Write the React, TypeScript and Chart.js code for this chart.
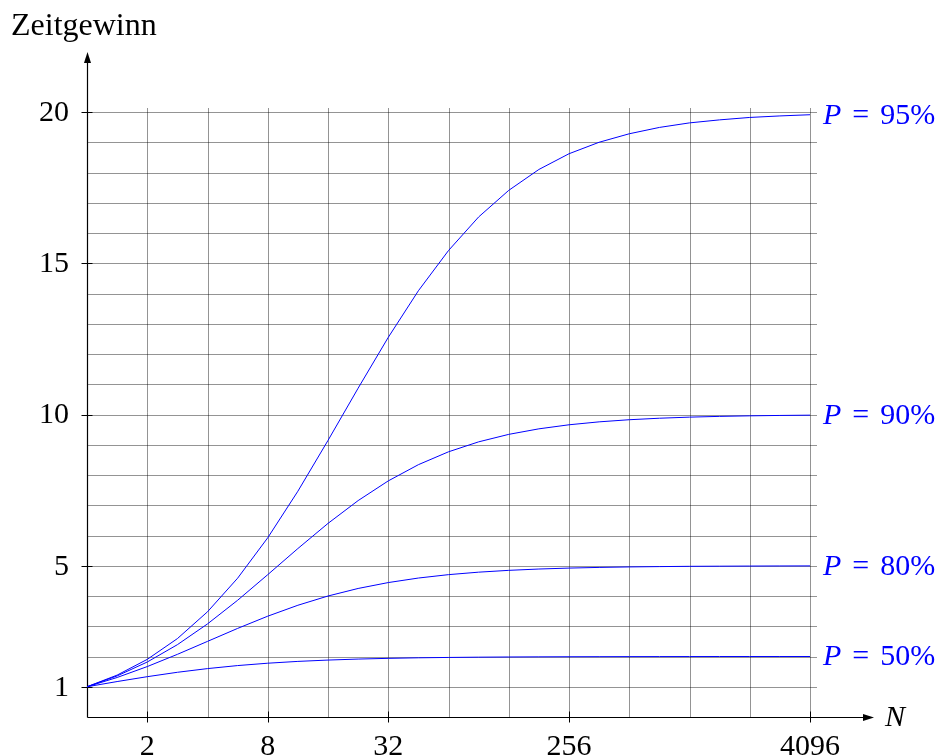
import React, { useEffect, useRef } from "react";
import { Chart, registerables } from "chart.js";

Chart.register(...registerables);

// x values are log2(N): N = 1, sqrt2, 2, ... 4096
const exponents = [0, 0.5, 1, 1.5, 2, 2.5, 3, 3.5, 4, 4.5, 5, 5.5, 6, 6.5, 7, 7.5, 8, 8.5, 9, 9.5, 10, 10.5, 11, 11.5, 12];
const xTickExps = [1, 3, 5, 8, 12];
const xTickLabels = ["2", "8", "32", "256", "4096"];
const yTicks = [1, 5, 10, 15, 20];

const s95 = [1, 1.385, 1.905, 2.591, 3.478, 4.589, 5.926, 7.464, 9.143, 10.87, 12.55, 14.09, 15.42, 16.53, 17.41, 18.10, 18.62, 19.00, 19.28, 19.49, 19.64, 19.74, 19.82, 19.87, 19.91];
const s90 = [1, 1.358, 1.818, 2.391, 3.077, 3.859, 4.706, 5.569, 6.4, 7.154, 7.805, 8.341, 8.767, 9.096, 9.343, 9.526, 9.66, 9.757, 9.827, 9.877, 9.913, 9.938, 9.956, 9.969, 9.978];
const s80 = [1, 1.306, 1.667, 2.071, 2.5, 2.929, 3.333, 3.694, 4.0, 4.249, 4.444, 4.594, 4.706, 4.788, 4.848, 4.892, 4.923, 4.945, 4.961, 4.972, 4.981, 4.986, 4.99, 4.993, 4.995];
const s50 = [1, 1.172, 1.333, 1.478, 1.6, 1.7, 1.778, 1.838, 1.882, 1.915, 1.939, 1.957, 1.969, 1.978, 1.984, 1.989, 1.992, 1.994, 1.996, 1.997, 1.998, 1.999, 1.999, 1.999, 2.0];
const seriesLabels = ["95%", "90%", "80%", "50%"];
const seriesValues = [s95, s90, s80, s50];

const FONT = '"Liberation Serif", "DejaVu Serif", serif';
const FS = 30;

const overlay = {
  id: "overlay",
  beforeDatasetsDraw(chart: any) {
    const { ctx, scales } = chart;
    const xs = scales.x;
    const ys = scales.y;
    const x0 = xs.getPixelForValue(0);
    const y0 = ys.getPixelForValue(0);
    const xEnd = xs.getPixelForValue(12);
    const yTop = ys.getPixelForValue(20);
    ctx.save();
    // grid
    ctx.strokeStyle = "rgba(0,0,0,0.42)";
    ctx.lineWidth = 1;
    ctx.beginPath();
    for (let v = 1; v <= 20; v++) {
      const y = Math.round(ys.getPixelForValue(v)) + 0.5;
      ctx.moveTo(x0, y);
      ctx.lineTo(xEnd + 7, y);
    }
    for (let e = 1; e <= 12; e++) {
      const x = Math.round(xs.getPixelForValue(e)) + 0.5;
      ctx.moveTo(x, yTop - 4);
      ctx.lineTo(x, y0);
    }
    ctx.stroke();
    // axes
    ctx.strokeStyle = "#000";
    ctx.fillStyle = "#000";
    ctx.lineWidth = 1.2;
    const ax = Math.round(x0) + 0.5;
    const ay = Math.round(y0) + 0.5;
    ctx.beginPath();
    ctx.moveTo(ax, ay);
    ctx.lineTo(ax, 60);
    ctx.moveTo(ax, ay);
    ctx.lineTo(866, ay);
    ctx.stroke();
    // arrowheads
    ctx.beginPath();
    ctx.moveTo(ax, 52);
    ctx.lineTo(ax - 3.5, 63);
    ctx.lineTo(ax + 3.5, 63);
    ctx.closePath();
    ctx.fill();
    ctx.beginPath();
    ctx.moveTo(874, ay);
    ctx.lineTo(863, ay - 3.5);
    ctx.lineTo(863, ay + 3.5);
    ctx.closePath();
    ctx.fill();
    // ticks
    ctx.lineWidth = 1;
    ctx.beginPath();
    xTickExps.forEach((e) => {
      const x = Math.round(xs.getPixelForValue(e)) + 0.5;
      ctx.moveTo(x, ay - 6);
      ctx.lineTo(x, ay + 5);
    });
    yTicks.forEach((v) => {
      const y = Math.round(ys.getPixelForValue(v)) + 0.5;
      ctx.moveTo(ax - 6, y);
      ctx.lineTo(ax + 5, y);
    });
    ctx.stroke();
    // tick labels
    ctx.font = `${FS}px ${FONT}`;
    ctx.textAlign = "center";
    ctx.textBaseline = "alphabetic";
    xTickExps.forEach((e, i) => {
      ctx.fillText(xTickLabels[i], xs.getPixelForValue(e), 755);
    });
    ctx.textAlign = "right";
    ctx.textBaseline = "middle";
    yTicks.forEach((v) => {
      ctx.fillText(String(v), 69, ys.getPixelForValue(v) + 1);
    });
    // axis titles
    ctx.textAlign = "left";
    ctx.textBaseline = "alphabetic";
    ctx.font = `32px ${FONT}`;
    ctx.fillText("Zeitgewinn", 11, 35);
    ctx.font = `italic ${FS}px ${FONT}`;
    ctx.textBaseline = "middle";
    ctx.fillText("N", 885, ay + 1);
    ctx.restore();
  },
  afterDatasetsDraw(chart: any) {
    const { ctx, scales } = chart;
    const xs = scales.x;
    const ys = scales.y;
    ctx.save();
    ctx.fillStyle = "#0000ff";
    ctx.textBaseline = "middle";
    ctx.textAlign = "left";
    seriesValues.forEach((vals, i) => {
      const y = ys.getPixelForValue(vals[vals.length - 1]) + 1;
      let x = xs.getPixelForValue(12) + 13;
      ctx.font = `italic ${FS}px ${FONT}`;
      ctx.fillText("P", x, y);
      x += ctx.measureText("P").width + 11;
      ctx.font = `${FS}px ${FONT}`;
      ctx.fillText("=", x, y);
      x += ctx.measureText("=").width + 11;
      ctx.fillText(seriesLabels[i], x, y);
    });
    ctx.restore();
  },
};

export default function App() {
  const ref = useRef<HTMLCanvasElement | null>(null);
  useEffect(() => {
    if (!ref.current) return;
    const chart = new Chart(ref.current, {
      type: "line",
      data: {
        datasets: seriesValues.map((vals, i) => ({
          label: "P = " + seriesLabels[i],
          data: exponents.map((e, j) => ({ x: e, y: vals[j] })),
          borderColor: "#0000ff",
          borderWidth: 1,
          pointRadius: 0,
          fill: false,
          tension: 0,
        })),
      },
      options: {
        animation: false,
        responsive: false,
        maintainAspectRatio: false,
        devicePixelRatio: 1,
        layout: { padding: { left: 87, right: 139, top: 112, bottom: 39 } },
        plugins: { legend: { display: false }, tooltip: { enabled: false } },
        scales: {
          x: { type: "linear", min: 0, max: 12, display: false },
          y: { type: "linear", min: 0, max: 20, display: false },
        },
      },
      plugins: [overlay],
    });
    return () => chart.destroy();
  }, []);
  return (
    <div style={{ position: "fixed", left: 0, top: 0, width: 949, height: 756, background: "#fff" }}>
      <canvas ref={ref} width={949} height={756} style={{ width: 949, height: 756, display: "block" }} />
    </div>
  );
}
